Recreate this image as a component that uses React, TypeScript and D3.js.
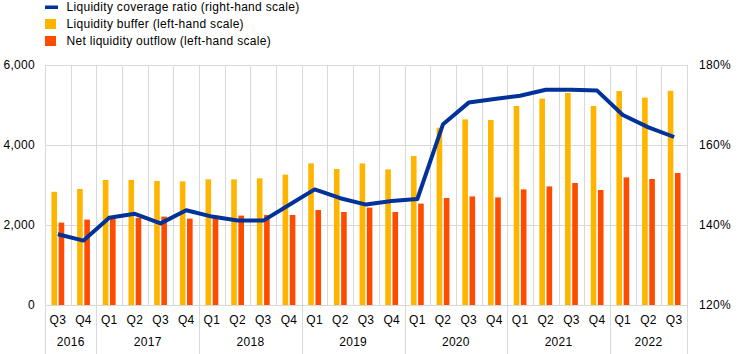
import React, { useEffect, useRef } from 'react';
import * as d3 from 'd3';

// quarters from Q3 2016 to Q3 2022
const quarters = ['Q3', 'Q4',
  'Q1', 'Q2', 'Q3', 'Q4',
  'Q1', 'Q2', 'Q3', 'Q4',
  'Q1', 'Q2', 'Q3', 'Q4',
  'Q1', 'Q2', 'Q3', 'Q4',
  'Q1', 'Q2', 'Q3', 'Q4',
  'Q1', 'Q2', 'Q3'];
const years = ['2016', '2017', '2018', '2019', '2020', '2021', '2022'];
const quartersPerYear = [2, 4, 4, 4, 4, 4, 3];

const buffer = [2830, 2900, 3125, 3125, 3100, 3090, 3140, 3140, 3165, 3260, 3540, 3400, 3540,
  3390, 3725, 4430, 4640, 4625, 4975, 5160, 5300, 4975, 5350, 5185, 5355];
const outflow = [2060, 2135, 2150, 2180, 2210, 2160, 2165, 2235, 2250, 2250, 2375, 2325, 2435,
  2325, 2535, 2675, 2715, 2690, 2890, 2965, 3050, 2875, 3190, 3150, 3300];
const lcr = [137.7, 136.1, 141.8, 142.8, 140.4, 143.7, 142.1, 141.1, 141.1, 145.0, 148.9, 146.7, 145.1,
  146.0, 146.5, 165.2, 170.6, 171.5, 172.3, 173.8, 173.8, 173.6, 167.5, 164.4, 162.0];

const leftTicks = [0, 2000, 4000, 6000];
const rightTicks = [120, 140, 160, 180];

const legendItems = [
  { label: 'Liquidity coverage ratio (right-hand scale)', color: '#003299', kind: 'line' },
  { label: 'Liquidity buffer (left-hand scale)', color: '#FFB400', kind: 'box' },
  { label: 'Net liquidity outflow (left-hand scale)', color: '#FF4B00', kind: 'box' },
];

const App = () => {
  const ref = useRef<SVGSVGElement>(null);
  const width = 745;
  const height = 354;

  useEffect(() => {
    const svg = d3.select(ref.current);
    svg.selectAll('*').remove();

    const left = 45, right = 687, top = 65, bottom = 305;
    const font = 'Liberation Sans, Arial, sans-serif';
    const idx = d3.range(quarters.length);

    const x = d3.scaleBand<number>().domain(idx).range([left, right]);
    const yL = d3.scaleLinear().domain([0, 6000]).range([bottom, top]);
    const yR = d3.scaleLinear().domain([120, 180]).range([bottom, top]);
    const bw = x.bandwidth();

    const txt = (sel: any) => sel
      .style('font-family', font).style('font-size', '12px')
      .style('letter-spacing', '0.3px').style('fill', '#000');

    const grid = svg.append('g').attr('stroke', '#d9d9d9').attr('stroke-width', 1);
    // horizontal grid
    leftTicks.forEach(t => {
      grid.append('line').attr('x1', left).attr('x2', right)
        .attr('y1', Math.round(yL(t)) + 0.5).attr('y2', Math.round(yL(t)) + 0.5);
    });
    // vertical grid at every band boundary
    idx.concat([quarters.length]).forEach(i => {
      const xx = Math.round(left + i * bw) + 0.5;
      grid.append('line').attr('x1', xx).attr('x2', xx).attr('y1', top).attr('y2', bottom);
    });
    // year separators below the axis
    let acc = 0;
    const bounds = [0];
    quartersPerYear.forEach(n => { acc += n; bounds.push(acc); });
    bounds.forEach(b => {
      const xx = Math.round(left + b * bw) + 0.5;
      grid.append('line').attr('x1', xx).attr('x2', xx).attr('y1', bottom).attr('y2', height);
    });

    // bars
    const barW = 5.6;
    const gap = 1.6;
    svg.append('g').selectAll('rect').data(buffer).enter().append('rect')
      .attr('x', (d, i) => x(i)! + bw / 2 - gap / 2 - barW)
      .attr('y', d => yL(d))
      .attr('width', barW)
      .attr('height', d => bottom - yL(d))
      .attr('fill', '#FFB400');
    svg.append('g').selectAll('rect').data(outflow).enter().append('rect')
      .attr('x', (d, i) => x(i)! + bw / 2 + gap / 2)
      .attr('y', d => yL(d))
      .attr('width', barW)
      .attr('height', d => bottom - yL(d))
      .attr('fill', '#FF4B00');

    // line
    const line = d3.line<number>()
      .x((d, i) => x(i)! + bw / 2)
      .y(d => yR(d));
    svg.append('path').datum(lcr)
      .attr('d', line)
      .attr('fill', 'none')
      .attr('stroke', '#003299')
      .attr('stroke-width', 4)
      .attr('stroke-linejoin', 'round');

    // left axis labels
    svg.append('g').selectAll('text').data(leftTicks).enter().append('text')
      .attr('x', 35).attr('y', d => yL(d)).attr('dy', '0.35em')
      .attr('text-anchor', 'end')
      .call(txt)
      .text(d => d3.format(',')(d));
    // right axis labels
    svg.append('g').selectAll('text').data(rightTicks).enter().append('text')
      .attr('x', 699).attr('y', d => yR(d)).attr('dy', '0.35em')
      .attr('text-anchor', 'start')
      .call(txt)
      .text(d => d + '%');

    // quarter labels
    svg.append('g').selectAll('text').data(quarters).enter().append('text')
      .attr('x', (d, i) => x(i)! + bw / 2).attr('y', 319.5).attr('dy', '0.35em')
      .attr('text-anchor', 'middle')
      .call(txt)
      .text(d => d);
    // year labels
    svg.append('g').selectAll('text').data(years).enter().append('text')
      .attr('x', (d, i) => left + (bounds[i] + bounds[i + 1]) / 2 * bw).attr('y', 341.5).attr('dy', '0.35em')
      .attr('text-anchor', 'middle')
      .call(txt)
      .text(d => d);

    // legend
    const lg = svg.append('g');
    legendItems.forEach((item, i) => {
      const cy = 7 + i * 17;
      if (item.kind === 'line') {
        lg.append('rect').attr('x', 45).attr('y', cy - 1.5).attr('width', 13).attr('height', 3.5).attr('fill', item.color);
      } else {
        lg.append('rect').attr('x', 45).attr('y', cy - 5).attr('width', 11).attr('height', 10).attr('fill', item.color);
      }
      lg.append('text').attr('x', 66.5).attr('y', cy).attr('dy', '0.35em')
        .call(txt)
        .text(item.label);
    });
  }, []);

  return (
    <svg ref={ref} width={width} height={height}
      style={{ display: 'block', position: 'absolute', left: 0, top: 0 }} />
  );
};

export default App;
